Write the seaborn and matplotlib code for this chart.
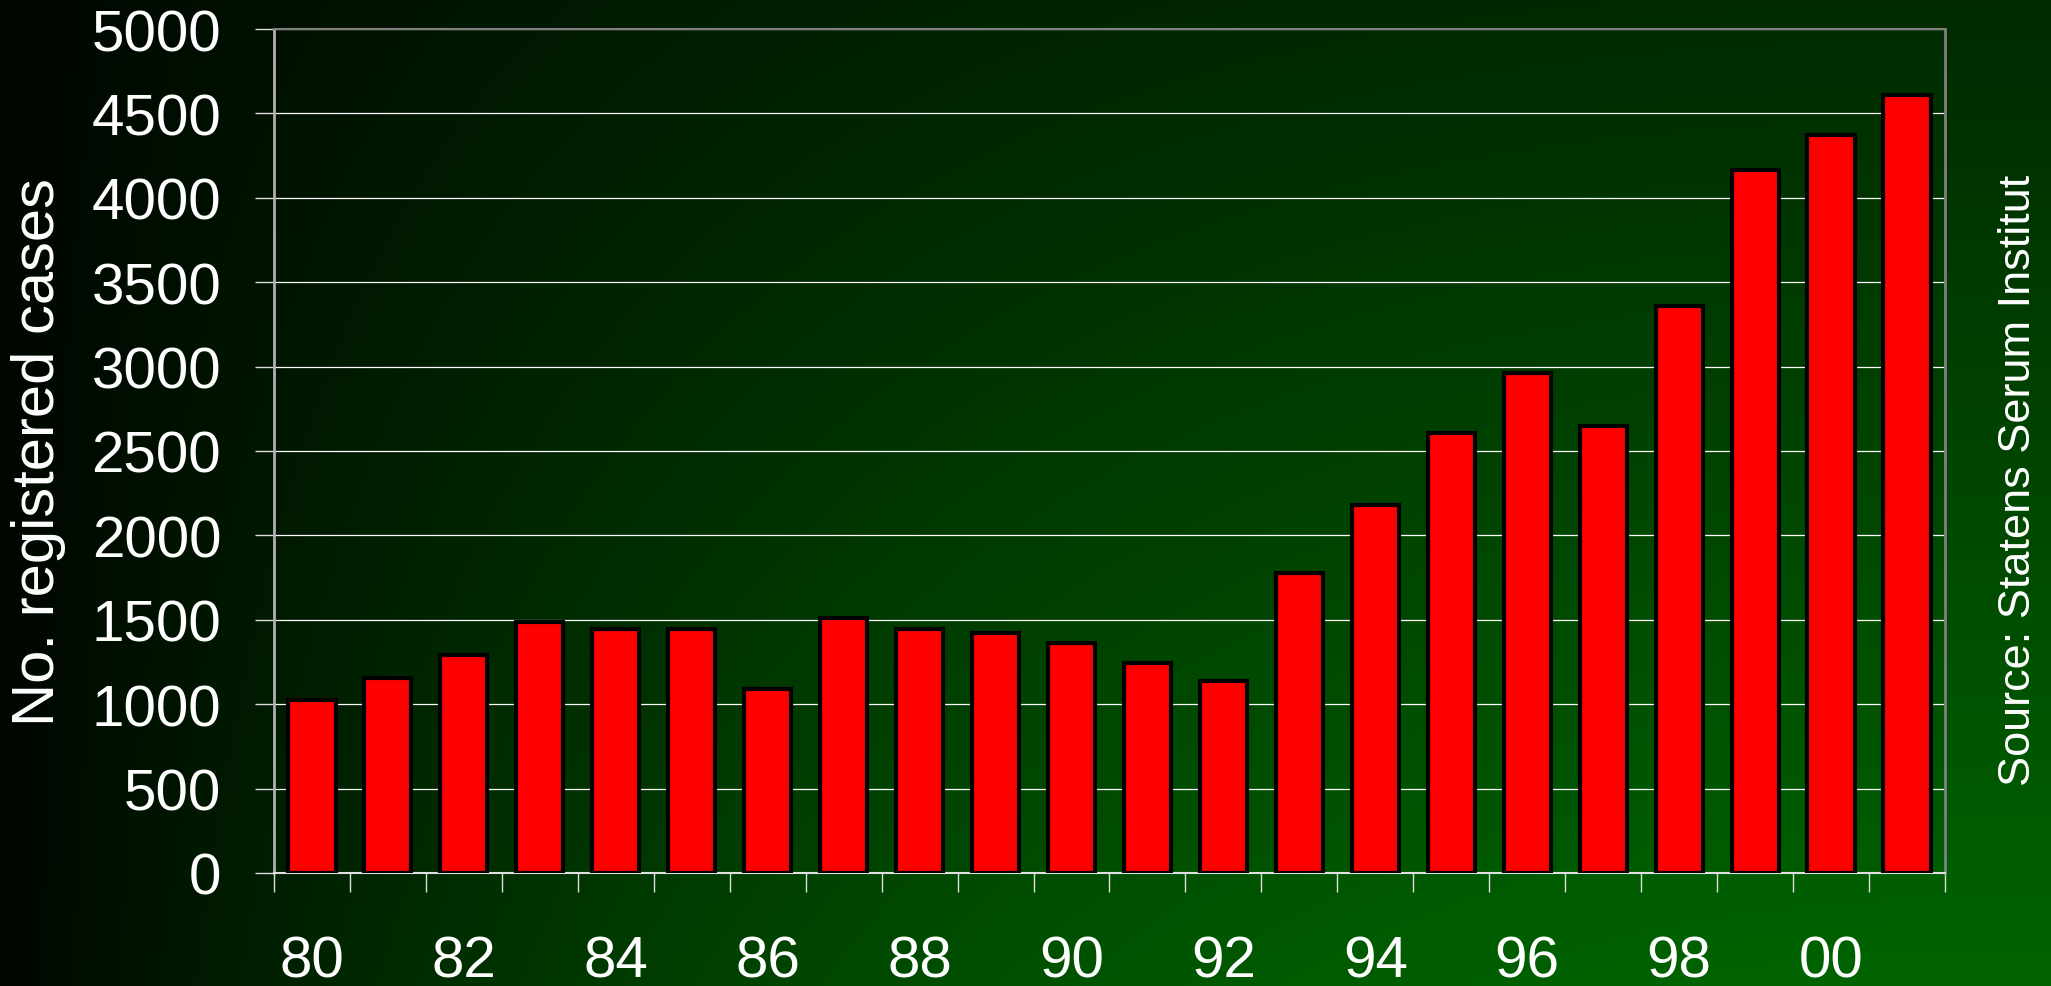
import numpy as np
import matplotlib
matplotlib.use("Agg")
import matplotlib.pyplot as plt
import seaborn as sns

# Data (registered cases per year, 1980-2001)
years = ["80", "81", "82", "83", "84", "85", "86", "87", "88", "89", "90",
         "91", "92", "93", "94", "95", "96", "97", "98", "99", "00", "01"]
cases = [1022, 1153, 1289, 1488, 1447, 1447, 1090, 1513, 1447, 1422, 1360,
         1246, 1135, 1779, 2181, 2606, 2962, 2650, 3358, 4165, 4370, 4610]
shown_labels = ["80", "82", "84", "86", "88", "90", "92", "94", "96", "98", "00"]

sns.set_style("white")
plt.rcParams["font.family"] = ["Liberation Sans", "DejaVu Sans"]

fig = plt.figure(figsize=(20.51, 9.87), dpi=100)

# Background gradient: black on the left, green towards the bottom right
bg = fig.add_axes([0, 0, 1, 1], zorder=-10)
gx = np.linspace(0, 1, 400)
gy = np.linspace(0, 1, 200)
X, Y = np.meshgrid(gx, gy)
G = 6 + (1 - (1 - X) ** 2.3) * (36 + 58 * Y)
img = np.zeros((200, 400, 3))
img[..., 1] = G / 255.0
bg.imshow(img, aspect="auto", extent=[0, 1, 1, 0], interpolation="bilinear")
bg.set_xlim(0, 1)
bg.set_ylim(1, 0)
bg.axis("off")

ax = fig.add_axes([0.1336, 0.1145, 0.8147, 0.8551])
ax.patch.set_alpha(0)

sns.barplot(x=years, y=cases, color="#ff0000", edgecolor="black",
            linewidth=3, width=0.62, saturation=1, ax=ax, zorder=3)

ax.set_ylim(0, 5000)
ax.set_xlim(-0.5, len(years) - 0.5)
ax.set_yticks(np.arange(0, 5001, 500))
ax.grid(axis="y", color="white", linewidth=0.9, zorder=0)
ax.grid(axis="x", visible=False)

# tick marks between bars, labels every second year
ax.set_xticks(np.arange(-0.5, len(years), 1.0))
ax.set_xticklabels([])
ax.set_xticks(np.arange(0, len(years), 2), minor=True)
ax.set_xticklabels(shown_labels, minor=True)
ax.tick_params(axis="x", which="major", direction="out", length=14,
               width=1, color="#dddddd", bottom=True)
ax.tick_params(axis="x", which="minor", length=0, pad=44, labelsize=42,
               labelcolor="white")
ax.tick_params(axis="y", direction="out", length=14, width=1,
               color="#dddddd", left=True, pad=24, labelsize=42,
               labelcolor="white")

for side in ["left", "right", "top", "bottom"]:
    ax.spines[side].set_visible(True)
ax.spines["left"].set_color("#b0b0b0")
ax.spines["left"].set_linewidth(2)
ax.spines["right"].set_color("#808080")
ax.spines["right"].set_linewidth(2)
ax.spines["top"].set_color("#808080")
ax.spines["top"].set_linewidth(1.5)
ax.spines["bottom"].set_color("#e0e0e0")
ax.spines["bottom"].set_linewidth(1.5)

ax.set_xlabel("")
ax.set_ylabel("")
fig.text(39 / 2051, 1 - 452 / 987, "No. registered cases", rotation=90,
         color="white", fontsize=43, ha="center", va="center")
fig.text(2018 / 2051, 1 - 480 / 987, "Source: Statens Serum Institut",
         rotation=90, color="white", fontsize=32.5, ha="center", va="center")

fig.savefig("out.png", dpi=100)
